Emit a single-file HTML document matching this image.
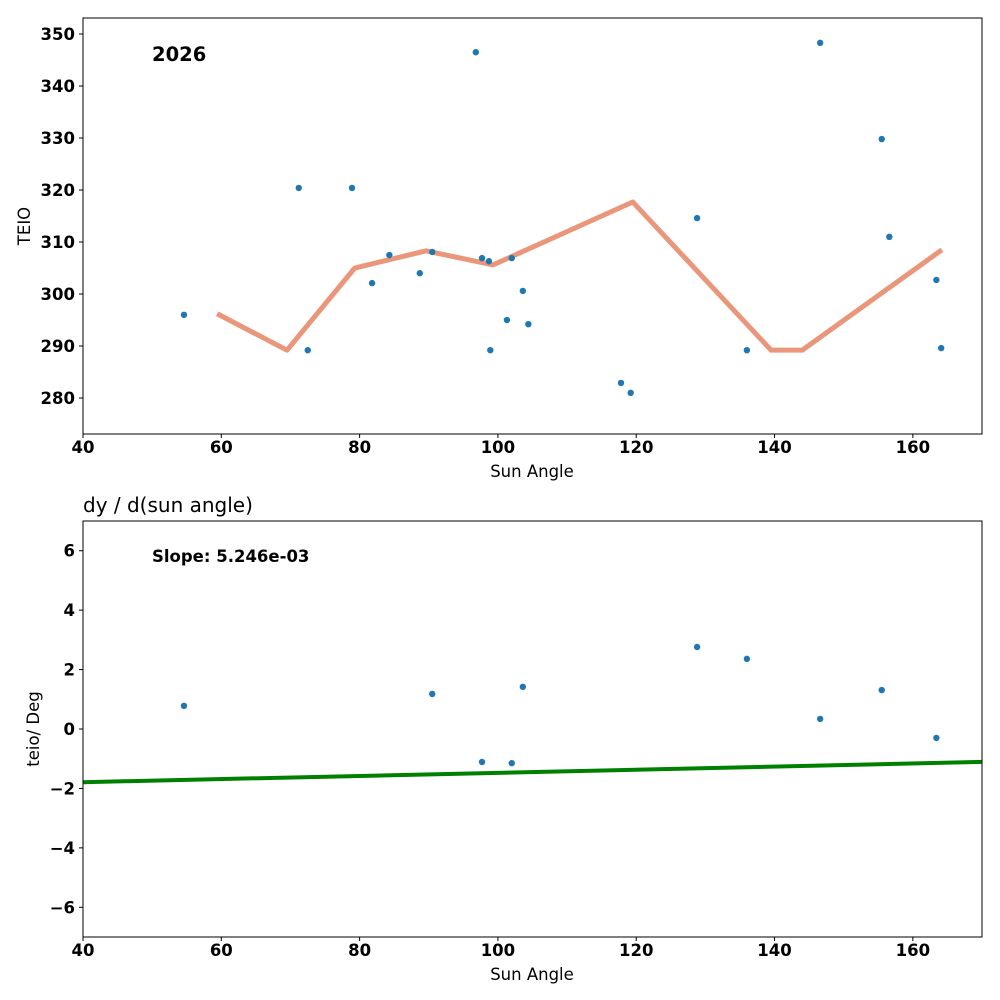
<!DOCTYPE html>
<html><head><meta charset="utf-8"><style>
body{margin:0;background:#fff;}
svg{display:block;font-family:"DejaVu Sans","Liberation Sans",sans-serif;}
.tk{font-size:16.5px;font-weight:bold;fill:#000;}
.lb{font-size:16.5px;fill:#000;}
</style></head><body>
<svg id="c" width="1000" height="1000" viewBox="0 0 1000 1000"></svg>
<script>
const topX=[54.6,71.2,72.5,78.9,81.8,84.3,88.7,90.5,96.8,97.7,98.7,98.9,101.3,102.0,103.6,104.4,117.8,119.2,128.8,136.0,146.6,155.5,156.6,163.4,164.1];
const topY=[296.0,320.4,289.2,320.4,302.1,307.5,304.0,308.1,346.5,306.9,306.3,289.2,295.0,306.9,300.6,294.2,282.9,281.0,314.6,289.2,348.3,329.8,311.0,302.7,289.6];
const lineX=[59.4,69.5,79.3,89.6,99.3,119.5,139.5,144.0,164.2];
const lineY=[296.2,289.2,305.0,308.3,305.6,317.7,289.2,289.2,308.5];
const botX=[54.6,90.5,97.7,102.0,103.6,128.8,136.0,146.6,155.5,163.4];
const botY=[0.78,1.18,-1.11,-1.15,1.42,2.76,2.36,0.34,1.31,-0.30];
const slope=5.246e-3;
const intercept=-1.79-slope*40;
const xTicks=[40,60,80,100,120,140,160];
const topYTicks=[280,290,300,310,320,330,340,350];
const botYTicks=[-6,-4,-2,0,2,4,6];

const svg=document.getElementById('c');
const NS='http://www.w3.org/2000/svg';
function mk(tag,attrs,parent){const e=document.createElementNS(NS,tag);for(const k in attrs)e.setAttribute(k,attrs[k]);(parent||svg).appendChild(e);return e;}
function txt(s,attrs,parent){const e=mk('text',attrs,parent);e.textContent=s;return e;}

const L=83,R=982;
const sx=v=>L+(v-40)*(R-L)/130;
const T1=18,B1=434,y1min=273.08,y1max=353.08;
const sy1=v=>B1-(v-y1min)*(B1-T1)/(y1max-y1min);
const T2=521,B2=937;
const sy2=v=>B2-(v+7)*(B2-T2)/14;

function axes(T,B,yt,sy,name){
  const g=mk('g',{});
  
  
  for(const t of xTicks){
    const x=sx(t);
    mk('line',{x1:x,x2:x,y1:B,y2:B+4,stroke:'#000'},g);
    const e=txt(t,{x:x,y:B+19,'text-anchor':'middle',class:'tk'},g);
    
    
  }
  for(const t of yt){
    const y=sy(t);
    mk('line',{x1:L-4,x2:L,y1:y,y2:y,stroke:'#000'},g);
    const e=txt(String(t).replace('-','\u2212'),{x:L-8,y:y+6,'text-anchor':'end',class:'tk'},g);
    
    
  }
  return g;
}

axes(T1,B1,topYTicks,sy1,'top');
const pl=mk('polyline',{points:lineX.map((x,i)=>sx(x)+','+sy1(lineY[i])).join(' '),fill:'none',stroke:'#e9967a',"stroke-width":5,"stroke-linejoin":'round'});


topX.forEach((x,i)=>{
  const c=mk('circle',{cx:sx(x),cy:sy1(topY[i]),r:3.2,fill:'#1f77b4'});
  
  
});
const f1=mk('rect',{x:L,y:T1,width:R-L,height:B1-T1,fill:'none',stroke:'#000'});


let e=txt('2026',{x:152,y:61,style:'font-size:19.5px;font-weight:bold'});


e=txt('Sun Angle',{x:532,y:477,'text-anchor':'middle',class:'lb'});


e=txt('TEIO',{x:30,y:226,'text-anchor':'middle',class:'lb',transform:'rotate(-90 30 226)'});



axes(T2,B2,botYTicks,sy2,'bottom');
const fl=mk('line',{x1:sx(40),y1:sy2(intercept+slope*40),x2:sx(170),y2:sy2(intercept+slope*170),stroke:'#008000','stroke-width':4});


botX.forEach((x,i)=>{
  const c=mk('circle',{cx:sx(x),cy:sy2(botY[i]),r:3.2,fill:'#1f77b4'});
  
  
});
const f2=mk('rect',{x:L,y:T2,width:R-L,height:B2-T2,fill:'none',stroke:'#000'});


e=txt('dy / d(sun angle)',{x:83,y:512,style:'font-size:20px'});


e=txt('Slope: '+slope.toExponential(3).replace('e-','e-0'),{x:152,y:562,style:'font-size:16.5px;font-weight:bold'});


e=txt('Sun Angle',{x:532,y:980,'text-anchor':'middle',class:'lb'});


e=txt('teio/ Deg',{x:39,y:729,'text-anchor':'middle',class:'lb',transform:'rotate(-90 39 729)'});


</script>
</body></html>
